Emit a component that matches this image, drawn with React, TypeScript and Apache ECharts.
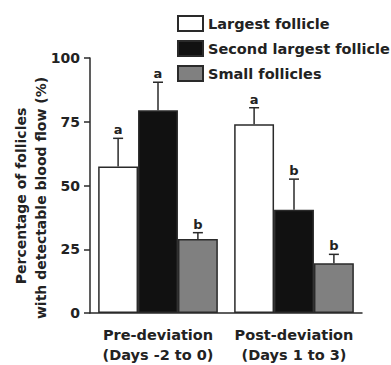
import React, { useEffect, useRef } from "react";
import * as echarts from "echarts";

const categories = ["Pre-deviation\n(Days -2 to 0)", "Post-deviation\n(Days 1 to 3)"];
const seriesNames = ["Largest follicle", "Second largest follicle", "Small follicles"];
const largest = [57.5, 74];
const secondLargest = [79.5, 40.5];
const small = [29, 19.5];
const largestErr = [11, 6.5];
const secondLargestErr = [11, 12];
const smallErr = [2.5, 3.5];
const largestLetters = ["a", "a"];
const secondLargestLetters = ["a", "b"];
const smallLetters = ["b", "b"];
const yTicks = [0, 25, 50, 75, 100];

const FONT = "DejaVu Sans";
const TEXT = "#222";
const LINE = "#2a2a2a";
const CAT_GAP = 0.12;

export default function App() {
  const ref = useRef<HTMLDivElement>(null);

  useEffect(() => {
    if (!ref.current) return;
    const chart = echarts.init(ref.current, null, { renderer: "svg" });

    const means = [largest, secondLargest, small];
    const errs = [largestErr, secondLargestErr, smallErr];
    const letters = [largestLetters, secondLargestLetters, smallLetters];
    const fills = ["#ffffff", "#111111", "#808080"];

    // one row per bar: [category, series, mean, upper, letter]
    const errorData: any[] = [];
    means.forEach((vals, s) => {
      vals.forEach((v, c) => {
        errorData.push([c, s, v, v + errs[s][c], letters[s][c]]);
      });
    });

    chart.setOption({
      animation: false,
      backgroundColor: "#ffffff",
      grid: { left: 90, right: 29, top: 58, bottom: 49 },
      legend: {
        orient: "vertical",
        left: 172,
        top: 10,
        itemWidth: 25,
        itemHeight: 15,
        itemGap: 8,
        icon: "rect",
        data: seriesNames,
        textStyle: { fontFamily: FONT, fontWeight: "bold", fontSize: 14.5, color: TEXT },
      },
      xAxis: {
        type: "category",
        data: categories,
        axisLine: { show: true, lineStyle: { color: LINE, width: 1.5 } },
        axisTick: { show: false },
        axisLabel: {
          interval: 0,
          margin: 12,
          fontFamily: FONT,
          fontWeight: "bold",
          fontSize: 14.5,
          lineHeight: 20,
          color: TEXT,
        },
      },
      yAxis: {
        type: "value",
        min: yTicks[0],
        max: yTicks[yTicks.length - 1],
        interval: 25,
        splitLine: { show: false },
        axisLine: { show: true, lineStyle: { color: LINE, width: 1.5 } },
        axisTick: { show: true, length: 6, lineStyle: { color: LINE, width: 1.5 } },
        axisLabel: {
          margin: 10,
          fontFamily: FONT,
          fontWeight: "bold",
          fontSize: 14,
          color: TEXT,
        },
      },
      graphic: [
        {
          type: "text",
          x: 21,
          y: 196,
          rotation: Math.PI / 2,
          style: {
            text: "Percentage of follicles",
            fontFamily: FONT,
            fontWeight: "bold",
            fontSize: 14,
            fill: TEXT,
            textAlign: "center",
            textVerticalAlign: "middle",
          },
        },
        {
          type: "text",
          x: 41,
          y: 198,
          rotation: Math.PI / 2,
          style: {
            text: "with detectable blood flow (%)",
            fontFamily: FONT,
            fontWeight: "bold",
            fontSize: 14,
            fill: TEXT,
            textAlign: "center",
            textVerticalAlign: "middle",
          },
        },
      ],
      series: [
        ...seriesNames.map((name, s) => ({
          name,
          type: "bar",
          data: means[s],
          barGap: "0%",
          barCategoryGap: CAT_GAP * 100 + "%",
          itemStyle: { color: fills[s], borderColor: LINE, borderWidth: 1.5 },
        })),
        {
          type: "custom",
          name: "error",
          data: errorData,
          encode: { x: 0, y: 3 },
          z: 5,
          renderItem: (params: any, api: any) => {
            const cat = api.value(0);
            const s = api.value(1);
            const mean = api.value(2);
            const upper = api.value(3);
            const letter = errorData[params.dataIndex][4];
            const catW = api.size([1, 0])[0];
            const barW = (catW * (1 - CAT_GAP)) / 3;
            const center = api.coord([cat, 0])[0];
            const x = center + (s - 1) * barW;
            const yTop = api.coord([cat, upper])[1];
            const yMean = api.coord([cat, mean])[1];
            const capHalf = 5;
            return {
              type: "group",
              children: [
                {
                  type: "line",
                  shape: { x1: x, y1: yMean, x2: x, y2: yTop },
                  style: { stroke: LINE, lineWidth: 1.5 },
                },
                {
                  type: "line",
                  shape: { x1: x - capHalf, y1: yTop, x2: x + capHalf, y2: yTop },
                  style: { stroke: LINE, lineWidth: 1.5 },
                },
                {
                  type: "text",
                  x,
                  y: yTop - 2,
                  style: {
                    text: letter,
                    fontFamily: FONT,
                    fontWeight: "bold",
                    fontSize: 13,
                    fill: TEXT,
                    textAlign: "center",
                    textVerticalAlign: "bottom",
                  },
                },
              ],
            };
          },
        },
      ],
    });

    return () => chart.dispose();
  }, []);

  return (
    <div
      ref={ref}
      style={{ position: "absolute", left: 0, top: 0, width: 391, height: 365 }}
    />
  );
}
